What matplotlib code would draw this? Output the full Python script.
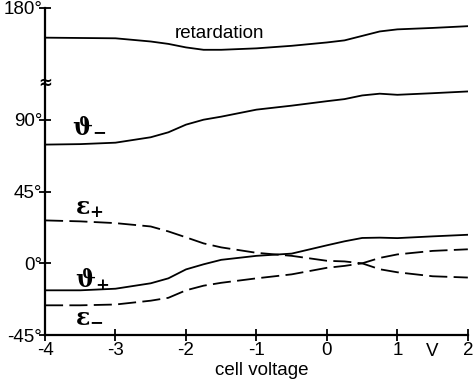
import numpy as np
import matplotlib
matplotlib.use("Agg")
import matplotlib.pyplot as plt
from matplotlib.transforms import blended_transform_factory

plt.rcParams['font.family'] = ['Liberation Sans', 'DejaVu Sans']
plt.rcParams['mathtext.fontset'] = 'custom'
plt.rcParams['mathtext.it'] = 'DejaVu Serif:bold'
plt.rcParams['mathtext.rm'] = 'DejaVu Serif:bold'

# cell voltage (V)
voltage = [-4, -3.5, -3, -2.5, -2.25, -2, -1.75, -1.5, -1, -0.5, 0, 0.25, 0.5, 0.75, 1, 1.5, 2]

# angles in degrees
retardation = [161.4, 161.2, 161.0, 159.0, 157.5, 155.3, 153.8, 153.8, 154.7, 156.3, 158.4,
               159.7, 162.5, 165.3, 166.6, 167.5, 168.6]
theta_minus = [74.4, 74.7, 75.6, 79.0, 82.1, 86.9, 90.0, 91.9, 96.3, 98.8, 101.6,
               102.9, 105.2, 106.3, 105.6, 106.6, 107.7]
eps_plus = [26.9, 26.3, 25.2, 23.1, 20.0, 16.3, 12.5, 10.0, 6.6, 4.7, 1.6,
            1.2, 0.0, -3.7, -5.6, -8.1, -8.9]
theta_plus = [-16.9, -16.9, -15.9, -12.5, -9.4, -3.8, -0.6, 2.2, 4.7, 6.1, 11.3,
              13.8, 15.9, 16.1, 15.8, 16.9, 17.9]
eps_minus = [-26.3, -26.3, -25.8, -23.4, -21.6, -16.9, -14.0, -12.2, -9.4, -6.9, -2.8,
             -1.6, 0.0, 3.4, 5.6, 7.8, 8.8]

yticks = [-45, 0, 45, 90, 180]
ytick_labels = ['-45°', '0°', '45°', '90°', '180°']
xticks = [-4, -3, -2, -1, 0, 1, 2]

# broken y axis: the range between BRK and BRK+GAP is squeezed out
BRK, GAP = 113, 20


def fwd(y):
    y = np.asarray(y, dtype=float)
    return np.where(y <= BRK, y, np.where(y >= BRK + GAP, y - GAP, BRK))


def inv(t):
    t = np.asarray(t, dtype=float)
    return np.where(t <= BRK, t, t + GAP)


fig = plt.figure(figsize=(4.74, 3.8), dpi=100)
ax = fig.add_axes([0.095, 0.118, 0.892, 0.861])
ax.set_yscale('function', functions=(fwd, inv))

lw = 1.3
ax.plot(voltage, retardation, color='black', lw=lw)
ax.plot(voltage, theta_minus, color='black', lw=lw)
ax.plot(voltage, theta_plus, color='black', lw=lw)
ax.plot(voltage, eps_plus, color='black', lw=lw, dashes=(10, 3.5))
ax.plot(voltage, eps_minus, color='black', lw=lw, dashes=(10, 3.5))

ax.set_xlim(-4, 2)
ax.set_ylim(-45, 180)
ax.set_xticks(xticks)
ax.set_xticklabels([str(v) for v in xticks])
ax.set_yticks(yticks)
ax.set_yticklabels(ytick_labels)
ax.yaxis.set_minor_locator(plt.NullLocator())
ax.xaxis.set_minor_locator(plt.NullLocator())

for s in ['top', 'right']:
    ax.spines[s].set_visible(False)
for s in ['left', 'bottom']:
    ax.spines[s].set_linewidth(1.6)

ax.tick_params(axis='both', direction='inout', length=8, width=1.3, labelsize=13.5)
ax.tick_params(axis='y', pad=-2)
ax.tick_params(axis='x', pad=1)

ax.set_xlabel('cell voltage', fontsize=13.5)
ax.xaxis.set_label_coords(0.513, -0.083)

# unit label between the last ticks
ax.annotate('V', xy=(1.5, 0), xycoords=ax.get_xaxis_transform(),
            xytext=(0, -6), textcoords='offset points', ha='center', va='top', fontsize=13.5)

# axis break mark
ax.text(0, BRK + GAP / 2, '≈', transform=blended_transform_factory(ax.transAxes, ax.transData),
        ha='center', va='center', fontsize=12, fontweight='bold', family='DejaVu Sans')

ax.text(-2.16, 161.5, 'retardation', fontsize=13.5, ha='left', va='baseline')
ax.text(-3.62, 86, r'$\vartheta_{-}$', fontsize=17, ha='left', va='center')
ax.text(-3.58, 34, r'$\varepsilon_{+}$', fontsize=17, ha='left', va='center')
ax.text(-3.58, -10, r'$\vartheta_{+}$', fontsize=17, ha='left', va='center')
ax.text(-3.58, -33, r'$\varepsilon_{-}$', fontsize=17, ha='left', va='center')

fig.savefig('out.png', dpi=100)
